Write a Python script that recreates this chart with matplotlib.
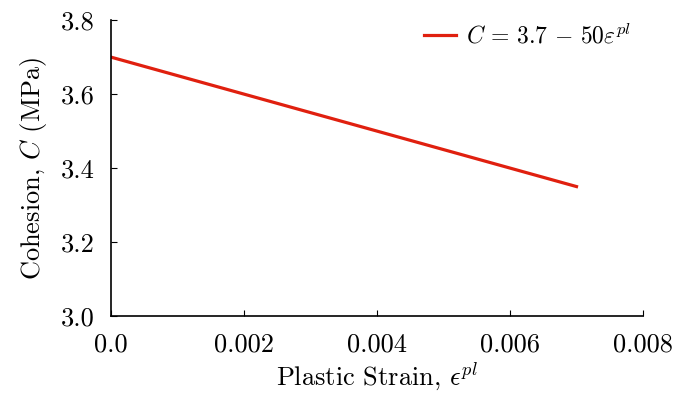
import matplotlib
matplotlib.use('Agg')
import matplotlib.pyplot as plt
from matplotlib.ticker import FixedLocator, FixedFormatter

plt.rcParams['font.family'] = 'serif'
plt.rcParams['font.serif'] = ['cmr10']
plt.rcParams['mathtext.fontset'] = 'cm'
plt.rcParams['axes.unicode_minus'] = False

# datos
strain = [0.0, 0.007]
cohesion = [3.7, 3.35]
xticks = [0.0, 0.002, 0.004, 0.006, 0.008]
xlabels = ['0.0', '0.002', '0.004', '0.006', '0.008']
yticks = [3.0, 3.2, 3.4, 3.6, 3.8]
ylabels = ['3.0', '3.2', '3.4', '3.6', '3.8']

fig = plt.figure(figsize=(6.75, 3.95), dpi=100)
ax = fig.add_axes([0.1644, 0.2, 0.7882, 0.749])
ax.plot(strain, cohesion, color='#e0200f', lw=2.3,
        label=r'$C\,=\,3.7\,-\,50\varepsilon^{pl}$')

ax.set_xlim(0, 0.008)
ax.set_ylim(3.0, 3.8)
ax.xaxis.set_major_locator(FixedLocator(xticks))
ax.xaxis.set_major_formatter(FixedFormatter(xlabels))
ax.yaxis.set_major_locator(FixedLocator(yticks))
ax.yaxis.set_major_formatter(FixedFormatter(ylabels))
ax.tick_params(direction='in', length=4, width=0.8, labelsize=19)
ax.tick_params(axis='x', pad=12)
ax.tick_params(axis='y', pad=12)

for s in ['top', 'right']:
    ax.spines[s].set_visible(False)
for s in ['left', 'bottom']:
    ax.spines[s].set_linewidth(1.2)

ax.set_xlabel(r'Plastic Strain, $\epsilon^{pl}$', fontsize=19, labelpad=3)
ax.set_ylabel(r'Cohesion, $C$ (MPa)', fontsize=19, labelpad=8)
ax.legend(loc='upper right', frameon=False, fontsize=17, handlelength=1.35,
          handletextpad=0.45, borderaxespad=0.1, bbox_to_anchor=(1.0, 1.03))

fig.savefig('out.png', dpi=100)
